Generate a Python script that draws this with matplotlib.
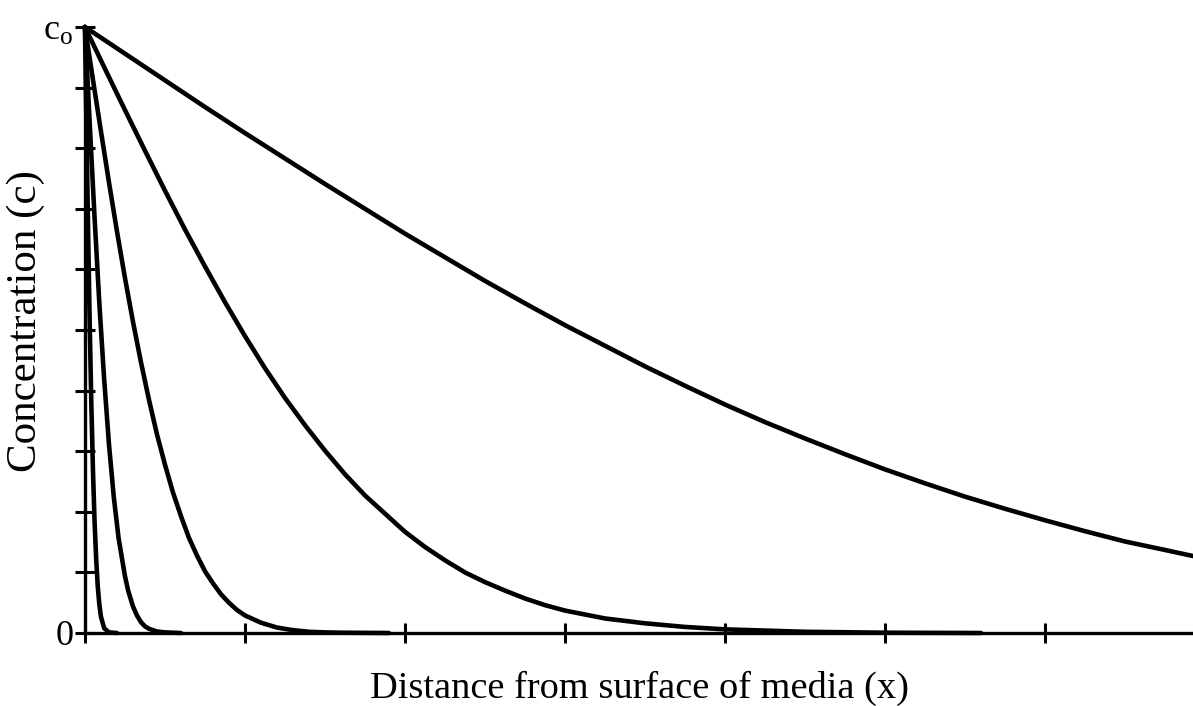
#!/usr/bin/env python3
"""
Concentration profiles into a porous medium at increasing exposure times.
"""

import matplotlib

matplotlib.use("Agg")
import matplotlib.pyplot as plt

# Distance in tick units, concentration as a fraction of c0.
x1 = [0, 0.01, 0.02, 0.03, 0.04, 0.05, 0.06, 0.07, 0.08, 0.09, 0.10, 0.12, 0.15, 0.20]
c1 = [1.0, 0.825, 0.659, 0.507, 0.377, 0.270, 0.185, 0.123, 0.077, 0.047, 0.027,
      0.008, 0.001, 0.0]

x2 = [0, 0.03, 0.06, 0.09, 0.12, 0.15, 0.18, 0.21, 0.25, 0.27, 0.30, 0.325, 0.35,
      0.375, 0.40, 0.45, 0.50, 0.60]
c2 = [1.0, 0.840, 0.686, 0.544, 0.419, 0.312, 0.225, 0.157, 0.094, 0.070, 0.044,
      0.029, 0.018, 0.011, 0.007, 0.0025, 0.001, 0.0]

x3 = [0, 0.05, 0.10, 0.15, 0.20, 0.25, 0.30, 0.35, 0.40, 0.45, 0.50, 0.55, 0.60,
      0.65, 0.70, 0.75, 0.80, 0.85, 0.90, 0.95, 1.00, 1.10, 1.20, 1.30, 1.40,
      1.50, 1.60, 1.90]
c3 = [1.0, 0.913, 0.828, 0.744, 0.663, 0.586, 0.514, 0.447, 0.385, 0.328, 0.278,
      0.232, 0.193, 0.157, 0.128, 0.102, 0.082, 0.064, 0.050, 0.038, 0.029, 0.017,
      0.009, 0.0047, 0.002, 0.001, 0.0005, 0.0]

x4 = [0, 0.125, 0.25, 0.375, 0.50, 0.625, 0.75, 0.875, 1.00, 1.125, 1.25, 1.375,
      1.50, 1.625, 1.75, 1.875, 2.00, 2.125, 2.25, 2.375, 2.50, 2.625, 2.75,
      2.875, 3.00, 3.25, 3.50, 3.75, 4.00, 4.50, 5.00, 5.60]
c4 = [1.0, 0.931, 0.863, 0.796, 0.730, 0.666, 0.605, 0.546, 0.490, 0.437, 0.388,
      0.343, 0.301, 0.262, 0.227, 0.197, 0.167, 0.142, 0.120, 0.100, 0.084, 0.070,
      0.057, 0.046, 0.037, 0.024, 0.016, 0.010, 0.006, 0.002, 0.0005, 0.0]

x5 = [0, 0.25, 0.5, 0.75, 1.0, 1.25, 1.5, 1.75, 2.0, 2.25, 2.5, 2.75, 3.0, 3.25,
      3.5, 3.75, 4.0, 4.25, 4.5, 4.75, 5.0, 5.25, 5.5, 5.75, 6.0, 6.25, 6.5,
      6.75, 6.925]
c5 = [1.0, 0.956, 0.912, 0.868, 0.825, 0.783, 0.741, 0.700, 0.659, 0.620, 0.581,
      0.544, 0.508, 0.474, 0.440, 0.408, 0.377, 0.348, 0.321, 0.295, 0.270, 0.247,
      0.225, 0.205, 0.186, 0.168, 0.151, 0.137, 0.127]

profiles = [(x1, c1), (x2, c2), (x3, c3), (x4, c4), (x5, c5)]

x_ticks = [0, 1, 2, 3, 4, 5, 6]
y_ticks = [0, 0.1, 0.2, 0.3, 0.4, 0.5, 0.6, 0.7, 0.8, 0.9, 1.0]
y_ticklabels = ["0", "", "", "", "", "", "", "", "", "", r"$\mathrm{c_o}$"]

plt.rcParams["font.family"] = ["Liberation Serif", "DejaVu Serif"]
plt.rcParams["mathtext.fontset"] = "custom"
plt.rcParams["mathtext.rm"] = "Liberation Serif"
plt.rcParams["mathtext.it"] = "Liberation Serif:italic"


def main():
    fig = plt.figure(figsize=(11.93, 7.06), dpi=100)
    ax = fig.add_axes([0.0712, 0.1034, 0.9288, 0.8584])

    for xs, cs in profiles:
        ax.plot(xs, cs, color="black", lw=3.3, clip_on=False,
                solid_capstyle="round", solid_joinstyle="round", zorder=3)

    ax.set_xlim(0, 6.925)
    ax.set_ylim(0, 1.0)

    for side in ("top", "right"):
        ax.spines[side].set_visible(False)
    for side in ("left", "bottom"):
        ax.spines[side].set_linewidth(2.4)
        ax.spines[side].set_color("black")

    ax.set_xticks(x_ticks)
    ax.set_xticklabels([])
    ax.set_yticks(y_ticks)
    ax.set_yticklabels(y_ticklabels)
    ax.tick_params(axis="both", direction="inout", length=15, width=2.2,
                   color="black")
    ax.tick_params(axis="y", labelsize=26, pad=1)

    ax.set_xlabel("Distance from surface of media (x)", fontsize=27.6, labelpad=16)
    ax.set_ylabel("Concentration (c)", fontsize=31)
    ax.yaxis.set_label_coords(-0.036, 0.515)

    fig.savefig("out.png", dpi=100)


if __name__ == "__main__":
    main()
